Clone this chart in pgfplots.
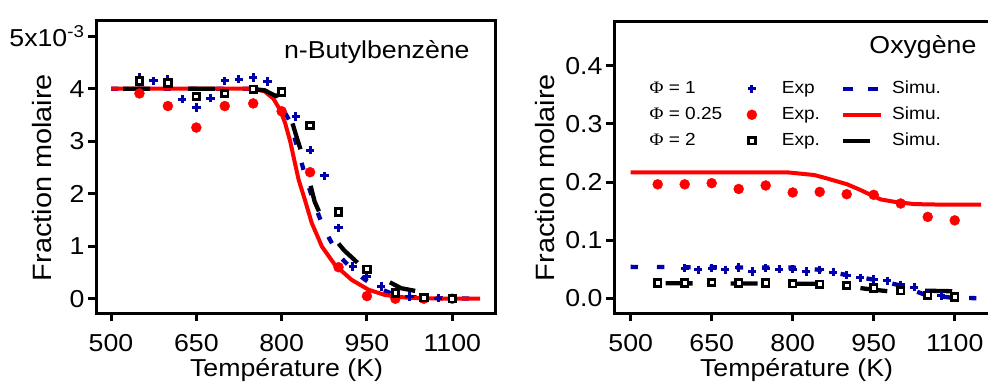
\documentclass[border=0pt]{standalone}
\usepackage{fontspec}
\setmainfont{Liberation Sans}[FakeStretch=1.09]
\newfontfamily\phifont{Liberation Serif}[FakeStretch=1.09]
\usepackage{pgfplots}
\pgfplotsset{compat=1.18}
\definecolor{myblue}{RGB}{0,0,170}
\definecolor{myred}{RGB}{255,0,0}
\pgfplotsset{
  panel/.style={
    scale only axis, height=292pt,
    axis line style={line width=3pt},
    tick style={line width=3pt, black},
    tick align=outside, major tick length=8pt, tick pos=left,
    xticklabel style={font=\fontsize{24.5}{24}\selectfont, yshift=-10pt},
    yticklabel style={font=\fontsize{24.5}{24}\selectfont},
    xlabel style={font=\fontsize{24.5}{28}\selectfont, anchor=base},
    ylabel style={font=\fontsize{26.5}{30}\selectfont, anchor=base, rotate=0},
  },
  legmark/.style={legend image code/.code={%
     \path[draw=none, fill=none] (0pt,-1pt) rectangle (24pt,1pt);
     \draw[##1] plot coordinates {(12pt,0pt)};}},
  legline/.style={legend image code/.code={\draw[##1] (0pt,0pt) -- (#1,0pt);}},
  simblue/.style={myblue, line width=4.3pt, dash pattern=on 7.3pt off 19pt},
  simred/.style={myred, line width=4pt},
  simblack/.style={black, line width=4.3pt, dash pattern=on 27pt off 38pt},
  expblue/.style={only marks, mark=+, mark size=4.2pt, myblue, line width=3pt, mark options={line width=3pt}},
  expred/.style={only marks, mark=*, mark size=5pt, myred, mark options={draw=none, fill=myred}},
  expblack/.style={only marks, mark=square*, mark size=3.3pt, black, line width=2.8pt, mark options={fill=white, line width=2.8pt}},
}
\begin{document}
\begin{tikzpicture}
%%%% LEFT PANEL
\begin{axis}[panel,
  at={(96pt,70pt)}, anchor=south west, width=399.5pt,
  xmin=473.6, xmax=1176, ymin=-0.272, ymax=5.29,
  xtick={500,650,800,950,1100}, xticklabels={500,650,800,950,1100},
  ytick={0,1,2,3,4,5}, yticklabels={0,1,2,3,4,{5x10\textsuperscript{-3}}},
  xlabel={Température (K)}, ylabel={Fraction molaire},
  xlabel style={at={(axis description cs:0.477,-0.216)}},
  ylabel style={at={(axis description cs:-0.111,0.464)}, rotate=0},
]
\addplot[simblue] coordinates {(500,4.0)(740,4.0)(770,3.95)(786,3.82)(800,3.65)(815,3.37)(827,2.9)(841,2.36)(856,1.85)(874,1.34)(900,0.83)(925,0.55)(947,0.36)(970,0.2)(991,0.11)(1030,0.03)(1070,0.01)(1150,0.0)};
\addplot[expblue] coordinates {(550,4.22)(575,4.15)(600,4.18)(625,3.80)(650,3.64)(675,3.82)(700,4.15)(725,4.18)(750,4.21)(775,4.14)(800,3.92)(825,3.47)(850,2.83)(875,2.34)(900,1.35)(925,0.61)(950,0.42)(975,0.23)(1000,0.10)(1025,0.04)(1050,0.02)(1075,0.01)(1100,0.0)};
\addplot[simred] coordinates {(500,4.0)(750,4.0)(770,3.95)(785,3.82)(797,3.6)(806,3.35)(815,3.0)(822,2.65)(830,2.26)(841,1.88)(853,1.44)(871,0.99)(894,0.64)(923,0.36)(953,0.17)(982,0.07)(1020,0.02)(1060,0.005)(1149,0)};
\addplot[expred] coordinates {(550,3.91)(600,3.67)(650,3.26)(700,3.67)(750,3.72)(800,3.57)(850,2.41)(900,0.60)(950,0.05)(1000,0.0)(1050,0.0)(1100,0.0)};
\addplot[simblack, dash phase=53pt] coordinates {(500,4.0)(745,4.0)(770,3.97)(790,3.86)(803,3.93)(812,3.6)(826,3.09)(841,2.58)(858,1.85)(880,1.31)(910,0.92)(941,0.61)(982,0.36)(1010,0.2)(1049,0.12)(1105,0.03)};
\addplot[expblack] coordinates {(550,4.15)(600,4.11)(650,3.85)(700,3.91)(750,3.99)(800,3.94)(850,3.30)(900,1.65)(950,0.56)(1000,0.11)(1050,0.02)(1100,0.0)};
\node[anchor=base east, font=\fontsize{24.5}{28}\selectfont] at (axis description cs:0.944,0.870) {n-Butylbenzène};
\end{axis}
%%%% RIGHT PANEL
\begin{axis}[panel,
  at={(614pt,70pt)}, anchor=south west, width=378pt,
  xmin=469.1, xmax=1169, ymin=-0.0253, ymax=0.4769,
  xtick={500,650,800,950,1100}, xticklabels={500,650,800,950,1100},
  ytick={0,0.1,0.2,0.3,0.4}, yticklabels={0.0,0.1,0.2,0.3,0.4},
  xlabel={Température (K)}, ylabel={Fraction molaire},
  xlabel style={at={(axis description cs:0.483,-0.216)}},
  ylabel style={at={(axis description cs:-0.1587,0.464)}},
  legend columns=2, legend cell align=left,
  legend style={at={(axis description cs:0.333,0.797)}, anchor=north west,
    draw=none, fill=none, inner sep=0pt, outer sep=0pt, row sep=9pt,
    font=\fontsize{17.5}{20}\selectfont,
    nodes={inner sep=0pt, text height=13pt, text depth=4pt},
    /tikz/column 1/.style={column sep=18pt},
    /tikz/column 2/.style={column sep=21pt},
    /tikz/column 3/.style={column sep=9pt}},
]
\addlegendimage{expblue, legmark}\addlegendentry{Exp}
\addlegendimage{myblue, line width=4.3pt, dash pattern=on 10pt off 15pt, legline=35pt}\addlegendentry{Simu.}
\addlegendimage{expred, legmark}\addlegendentry{Exp.}
\addlegendimage{simred, legline=38pt}\addlegendentry{Simu.}
\addlegendimage{expblack, legmark}\addlegendentry{Exp.}
\addlegendimage{black, line width=4.3pt, legline=27pt}\addlegendentry{Simu.}
\addplot[simblue, forget plot] coordinates {(500,0.054)(700,0.053)(800,0.053)(850,0.049)(900,0.040)(950,0.032)(1000,0.022)(1045,0.006)(1095,0.001)(1150,0.0)};
\addplot[expblue, forget plot] coordinates {(600,0.052)(625,0.049)(650,0.052)(675,0.049)(700,0.053)(725,0.046)(750,0.052)(775,0.050)(800,0.050)(825,0.046)(850,0.049)(875,0.045)(900,0.040)(925,0.035)(950,0.033)(975,0.030)(1000,0.023)(1025,0.019)(1050,0.007)(1075,0.005)(1100,0.003)};
\addplot[simred, forget plot] coordinates {(500,0.2166)(790,0.2166)(840,0.212)(864,0.206)(901,0.196)(926,0.186)(944,0.178)(963,0.170)(988,0.166)(1025,0.162)(1080,0.161)(1149,0.161)};
\addplot[expred, forget plot] coordinates {(550,0.196)(600,0.196)(650,0.198)(700,0.188)(750,0.194)(800,0.182)(850,0.183)(900,0.179)(950,0.178)(1000,0.163)(1050,0.140)(1100,0.134)};
\addplot[expblack, forget plot] coordinates {(550,0.026)(600,0.026)(650,0.027)(700,0.026)(750,0.026)(800,0.025)(850,0.024)(900,0.022)(950,0.018)(1000,0.013)(1050,0.005)(1100,0.002)};
\addplot[simblack, dash phase=30pt, forget plot] coordinates {(500,0.026)(850,0.025)(900,0.021)(930,0.017)(977,0.012)(1000,0.011)(1050,0.013)(1104,0.012)};
\node[anchor=base east, font=\fontsize{24.5}{28}\selectfont] at (axis description cs:0.968,0.889) {Oxygène};
\node[anchor=base west, font=\fontsize{17.5}{20}\selectfont] at (axis description cs:0.0847,0.752) {{\phifont Φ} = 1};
\node[anchor=base west, font=\fontsize{17.5}{20}\selectfont] at (axis description cs:0.0847,0.663) {{\phifont Φ} = 0.25};
\node[anchor=base west, font=\fontsize{17.5}{20}\selectfont] at (axis description cs:0.0847,0.575) {{\phifont Φ} = 2};
\end{axis}
\pgfresetboundingbox
\path[use as bounding box] (0pt,0pt) rectangle (988pt,383pt);
\end{tikzpicture}
\end{document}
